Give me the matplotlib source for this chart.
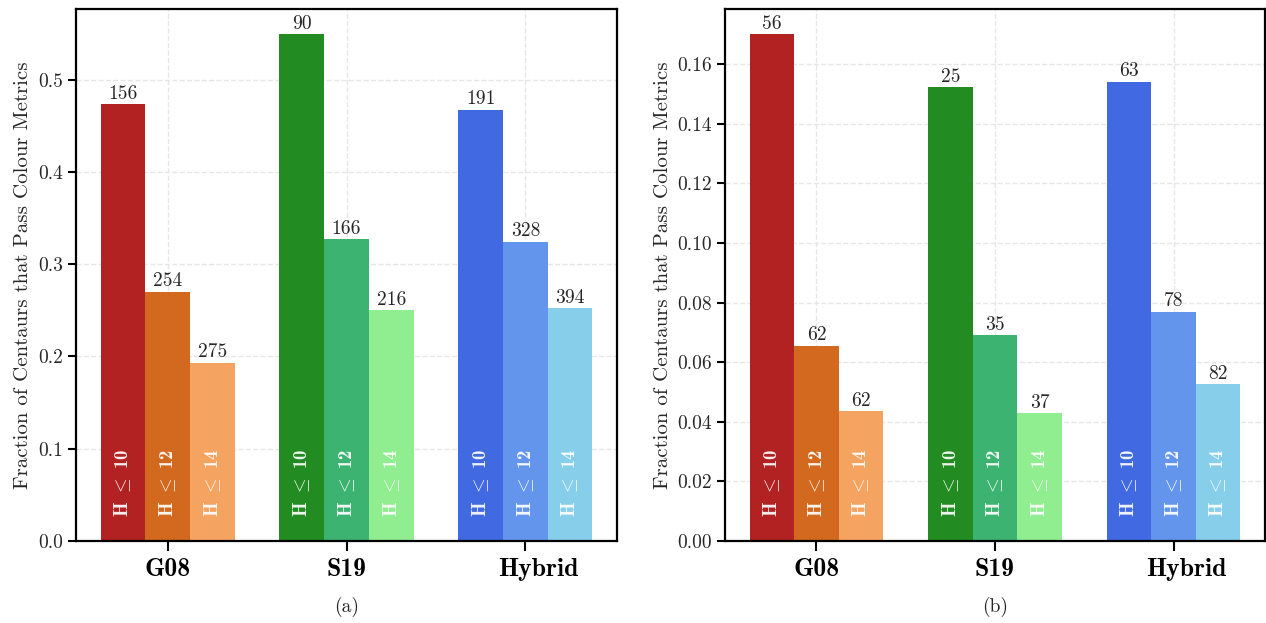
import numpy as np
import matplotlib
matplotlib.use('Agg')
import matplotlib.pyplot as plt
import matplotlib.transforms as mtransforms

plt.rcParams['font.family'] = 'serif'
plt.rcParams['font.serif'] = ['cmr10']
plt.rcParams['mathtext.fontset'] = 'cm'
plt.rcParams['axes.formatter.use_mathtext'] = True

# data
catalogues = ['G08', 'S19', 'Hybrid']
h_cuts = ['10', '12', '14']

frac_a = [[0.473, 0.270, 0.193],
          [0.549, 0.327, 0.250],
          [0.467, 0.324, 0.252]]
count_a = [[156, 254, 275],
           [90, 166, 216],
           [191, 328, 394]]

frac_b = [[0.170, 0.0655, 0.0435],
          [0.1523, 0.069, 0.0428],
          [0.1540, 0.0770, 0.0526]]
count_b = [[56, 62, 62],
           [25, 35, 37],
           [63, 78, 82]]

colours = [['firebrick', 'chocolate', 'sandybrown'],
           ['forestgreen', 'mediumseagreen', 'lightgreen'],
           ['royalblue', 'cornflowerblue', 'skyblue']]

txt_col = '#262626'


def draw_panel(ax, fracs, counts, yticks, fmt, caption):
    x = np.arange(len(catalogues))
    width = 0.25
    ymax = max(max(r) for r in fracs)
    trans = mtransforms.blended_transform_factory(ax.transData, ax.transAxes)
    for i in range(len(catalogues)):
        for j in range(len(h_cuts)):
            xpos = x[i] + (j - 1) * width
            ax.bar(xpos, fracs[i][j], width, color=colours[i][j], zorder=2)
            ax.text(xpos, fracs[i][j] + ymax * 0.003, str(counts[i][j]),
                    ha='center', va='bottom', fontsize=14, color=txt_col)
            ax.text(xpos, 0.045, 'H $\\leq$ ' + h_cuts[j],
                    transform=trans, rotation=90, ha='center', va='bottom',
                    fontfamily='cmb10', fontsize=13.5, color='white',
                    alpha=0.92, zorder=3)
    ax.set_ylim(0, ymax * 1.05)
    ax.set_yticks(yticks)
    ax.set_yticklabels([fmt.format(t) for t in yticks])
    ax.set_xticks(x)
    # last label sits a little right of its tick in the original, so draw it by hand
    ax.set_xticklabels(catalogues[:-1] + [''], fontfamily='cmb10', fontsize=18.5,
                       color='black')
    ax.annotate(catalogues[-1], xy=(x[-1], 0), xycoords=trans,
                xytext=(9, -12), textcoords='offset points', ha='center', va='top',
                fontfamily='cmb10', fontsize=18.5, color='black')
    ax.grid(True, linestyle='--', color='#e6e6e6', linewidth=1, zorder=0)
    ax.set_axisbelow(True)
    for sp in ax.spines.values():
        sp.set_linewidth(1.6)
        sp.set_color('black')
    ax.tick_params(axis='y', direction='out', length=6, width=1.5,
                   labelsize=14, labelcolor=txt_col)
    ax.tick_params(axis='x', direction='out', length=7, width=1.5, pad=5)
    ax.set_ylabel('Fraction of Centaurs that Pass Colour Metrics',
                  fontsize=15, color=txt_col)
    ax.set_xlabel(caption, fontsize=14, color=txt_col, labelpad=12)


fig = plt.figure(figsize=(12.66, 6.23), dpi=100)
W, H = 1266.0, 623.0
ax1 = fig.add_axes([76 / W, (H - 541) / H, 541 / W, 532 / H])
ax2 = fig.add_axes([725 / W, (H - 541) / H, 540 / W, 532 / H])

draw_panel(ax1, frac_a, count_a, [0.0, 0.1, 0.2, 0.3, 0.4, 0.5], '{:.1f}', '(a)')
draw_panel(ax2, frac_b, count_b,
           [0.0, 0.02, 0.04, 0.06, 0.08, 0.10, 0.12, 0.14, 0.16], '{:.2f}', '(b)')

fig.savefig('out.png', dpi=100)
